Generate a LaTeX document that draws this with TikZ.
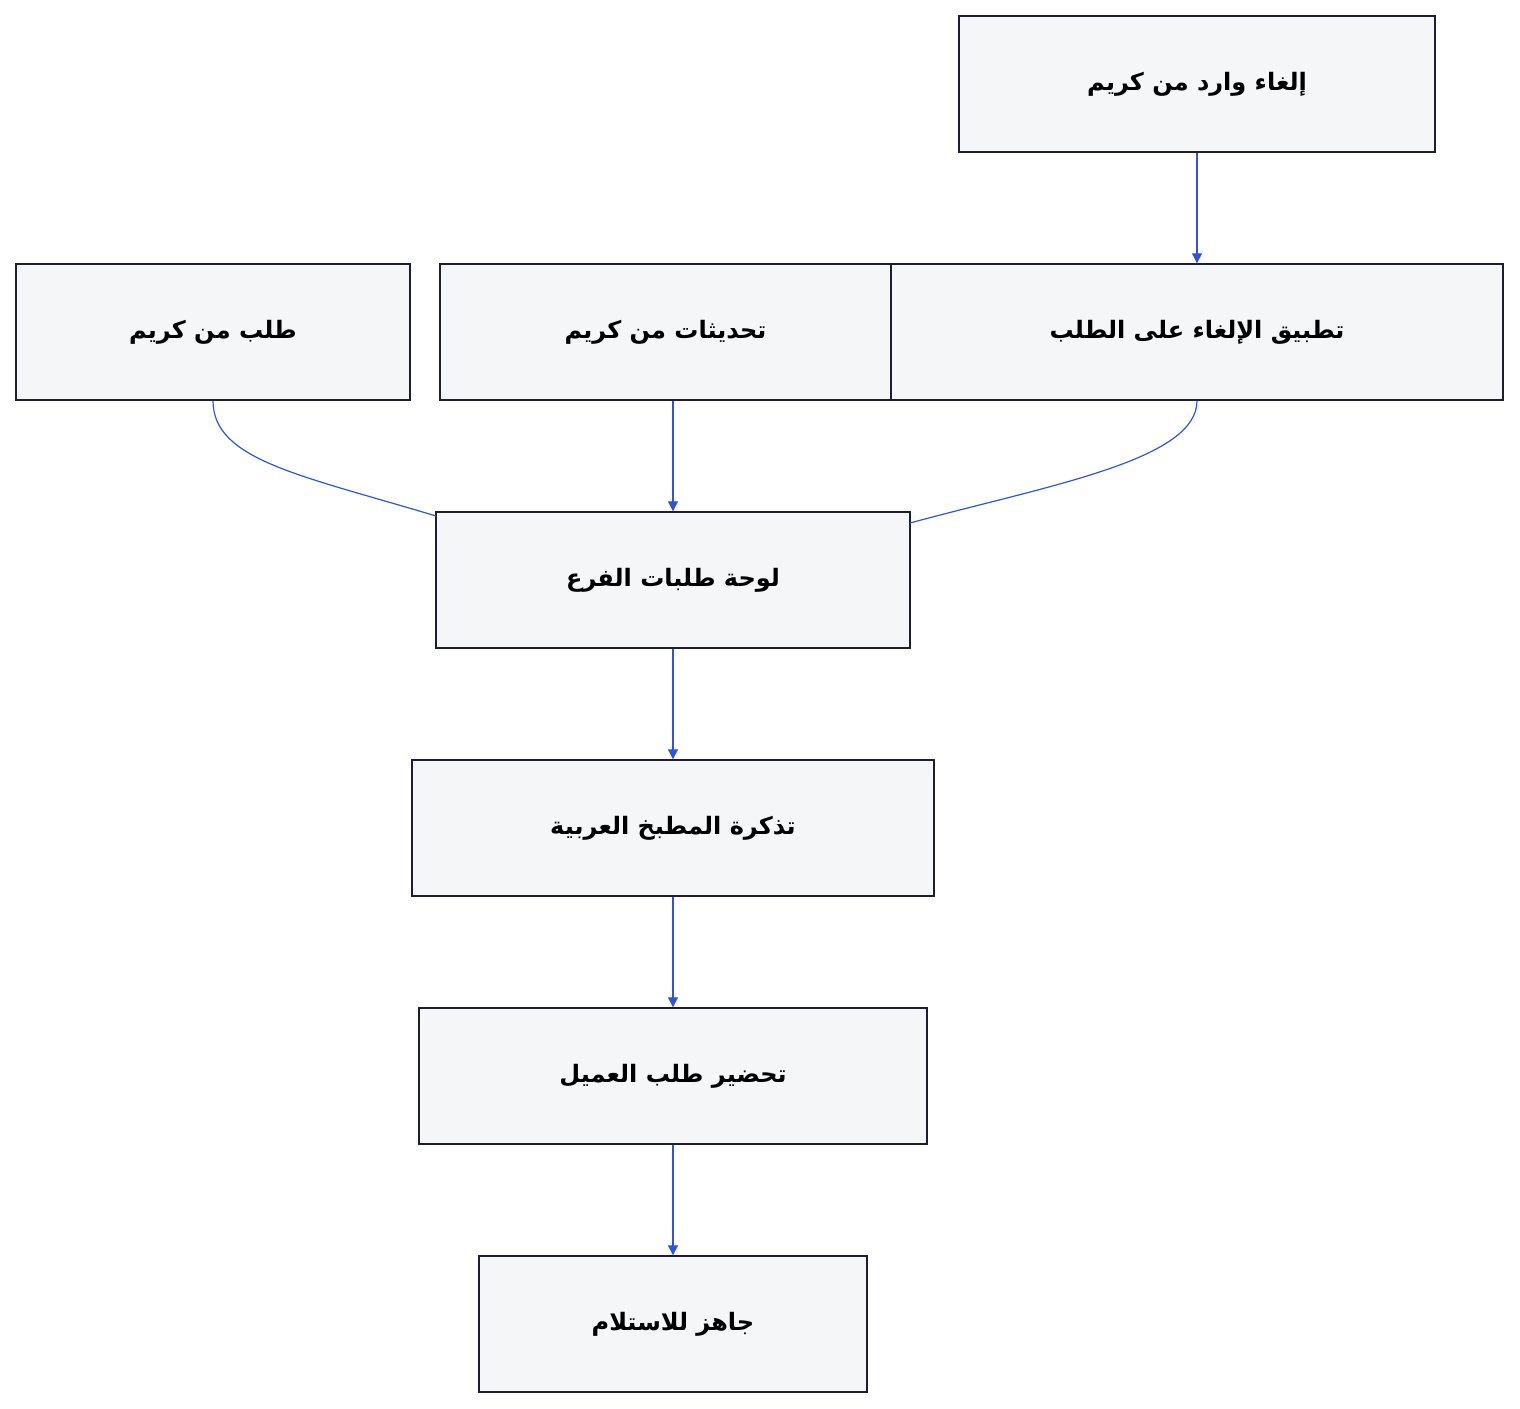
\documentclass[tikz,border=0pt]{standalone}
\usepackage{fontspec}
\newfontfamily\arabicfont[Script=Arabic]{DejaVu Sans}
\TeXXeTstate=1
\usetikzlibrary{arrows.meta}
\definecolor{boxfill}{HTML}{F5F6F8}
\definecolor{boxline}{HTML}{1E1E30}
\definecolor{edge}{HTML}{2F54D8}
\newcommand{\ar}[1]{\arabicfont\bfseries\beginR #1\endR}
\begin{document}
\begin{tikzpicture}[x=0.5pt,y=-0.5pt,
  box/.style={draw=boxline,fill=boxfill,line width=0.7pt,inner sep=0pt,font=\fontsize{12}{14}\selectfont},
  link/.style={edge,line width=0.6pt},
  arr/.style={link,-{Triangle[length=5pt,width=5pt]}}]
\useasboundingbox (0,0) rectangle (1520,1408);
\newcommand{\bx}[6]{\node[box,minimum width={(#4-#2)*0.5pt},minimum height={(#5-#3)*0.5pt}] (#1) at ({(#2+#4)/2},{(#3+#5)/2}) {\ar{#6}};}
\bx{A}{959}{16}{1435}{152}{إلغاء وارد من كريم}
\bx{B}{891}{264}{1503}{400}{تطبيق الإلغاء على الطلب}
\bx{C}{440}{264}{891}{400}{تحديثات من كريم}
\bx{E}{16}{264}{410}{400}{طلب من كريم}
\bx{D}{436}{512}{910}{648}{لوحة طلبات الفرع}
\bx{F}{412}{760}{934}{896}{تذكرة المطبخ العربية}
\bx{G}{419}{1008}{927}{1144}{تحضير طلب العميل}
\bx{H}{479}{1256}{867}{1392}{جاهز للاستلام}
\draw[arr] (A.south) -- (B.north);
\draw[arr] (C.south -| D.north) -- (D.north);
\draw[arr] (D) -- (F);
\draw[arr] (F) -- (G);
\draw[arr] (G) -- (H);
\coordinate (el) at (436,516);
\coordinate (br) at (910,523);
\draw[link] (E.south) .. controls (213,460) and (300,475) .. (el);
\draw[link] (B.south) .. controls (1197,460) and (1050,485) .. (br);
\end{tikzpicture}
\end{document}
